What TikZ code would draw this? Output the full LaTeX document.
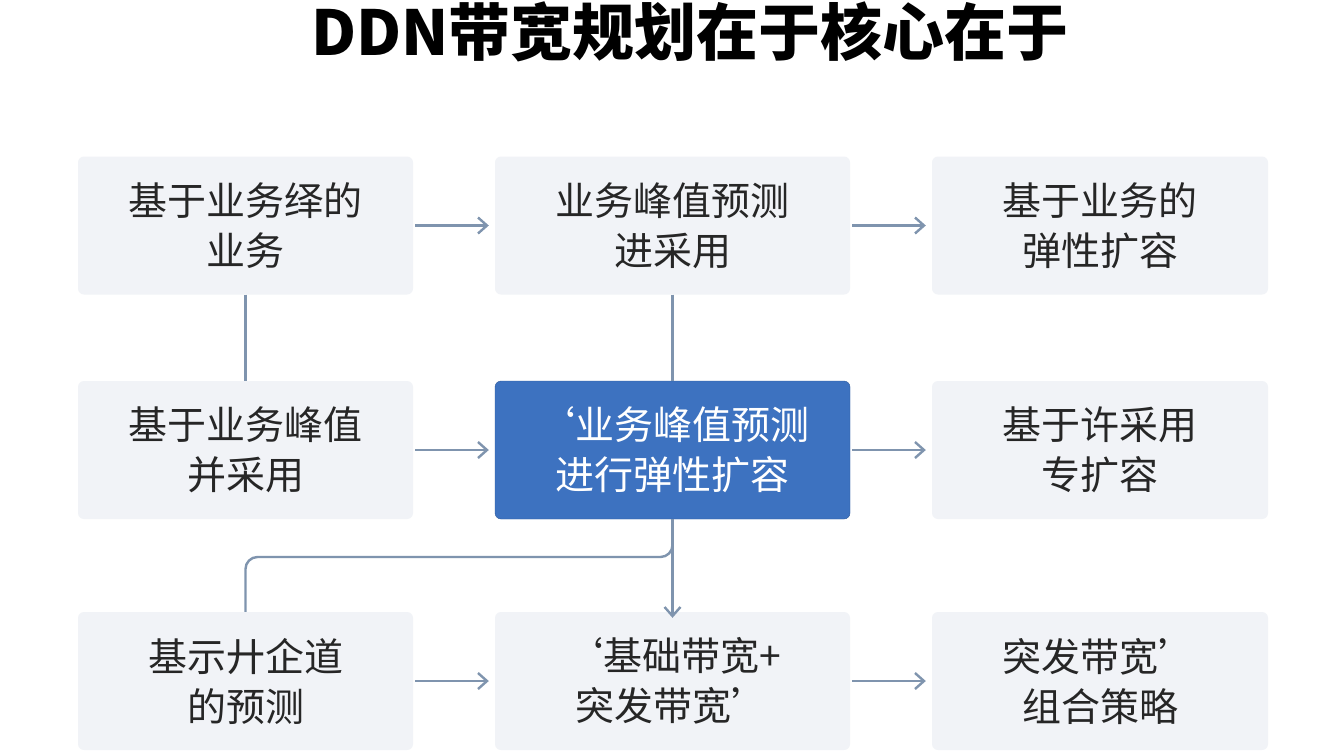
\documentclass[tikz,border=0pt]{standalone}
\usepackage{fontspec}
\newfontfamily\cjk{Noto Sans CJK SC}
\usetikzlibrary{arrows.meta}
\definecolor{boxf}{HTML}{F1F3F7}
\definecolor{blu}{HTML}{3D72C0}
\definecolor{ln}{HTML}{7F94AE}
\begin{document}
\begin{tikzpicture}[x=1pt,y=-1pt,
 bx/.style={fill=boxf,rounded corners=6pt,minimum width=#1,minimum height=138pt,align=center,font=\cjk\fontsize{39}{50}\selectfont,text=black!85},
 hl/.style={fill=blu,text=white,draw=blu!80!black},
 ar/.style={draw=ln,line width=2.4pt,-{Straight Barb[length=9pt,width=16pt]}},
 ln/.style={draw=ln,line width=2.4pt}]
\useasboundingbox[fill=white] (0,0) rectangle (1344,750);
\node[font=\cjk\bfseries\fontsize{62}{72}\selectfont] (t) at (690,32) {DDN带宽规划在于核心在于};
\node[bx=335pt] (a1) at (245.5,225.5) {基于业务绎的\\业务};
\node[bx=355pt] (a2) at (672.5,225.5) {业务峰值预测\\进采用};
\node[bx=336pt] (a3) at (1100,225.5) {基于业务的\\弹性扩容};
\node[bx=335pt] (b1) at (245.5,450) {基于业务峰值\\并采用};
\node[bx=355pt,hl] (b2) at (672.5,450) {‘业务峰值预测\\进行弹性扩容};
\node[bx=336pt] (b3) at (1100,450) {基于许采用\\专扩容};
\node[bx=335pt] (c1) at (245.5,681) {基示廾企道\\的预测};
\node[bx=355pt] (c2) at (672.5,681) {‘基础带宽+\\突发带宽’};
\node[bx=336pt] (c3) at (1100,681) {突发带宽’\\组合策略};
\foreach \p/\q in {a1/a2,a2/a3,b1/b2,b2/b3,c1/c2,c2/c3}
 \draw[ar] ([xshift=2pt]\p.east) -- ([xshift=-6pt]\q.west);
\draw[ln] (a1.south) -- (b1.north);
\draw[ln] (a2.south) -- (b2.north);
\draw[ar] (b2.south) -- ([yshift=-6pt]c2.north);
\draw[ln,rounded corners=12pt] (b2.south) |- (400,557) -| (c1.north);
\end{tikzpicture}
\end{document}
